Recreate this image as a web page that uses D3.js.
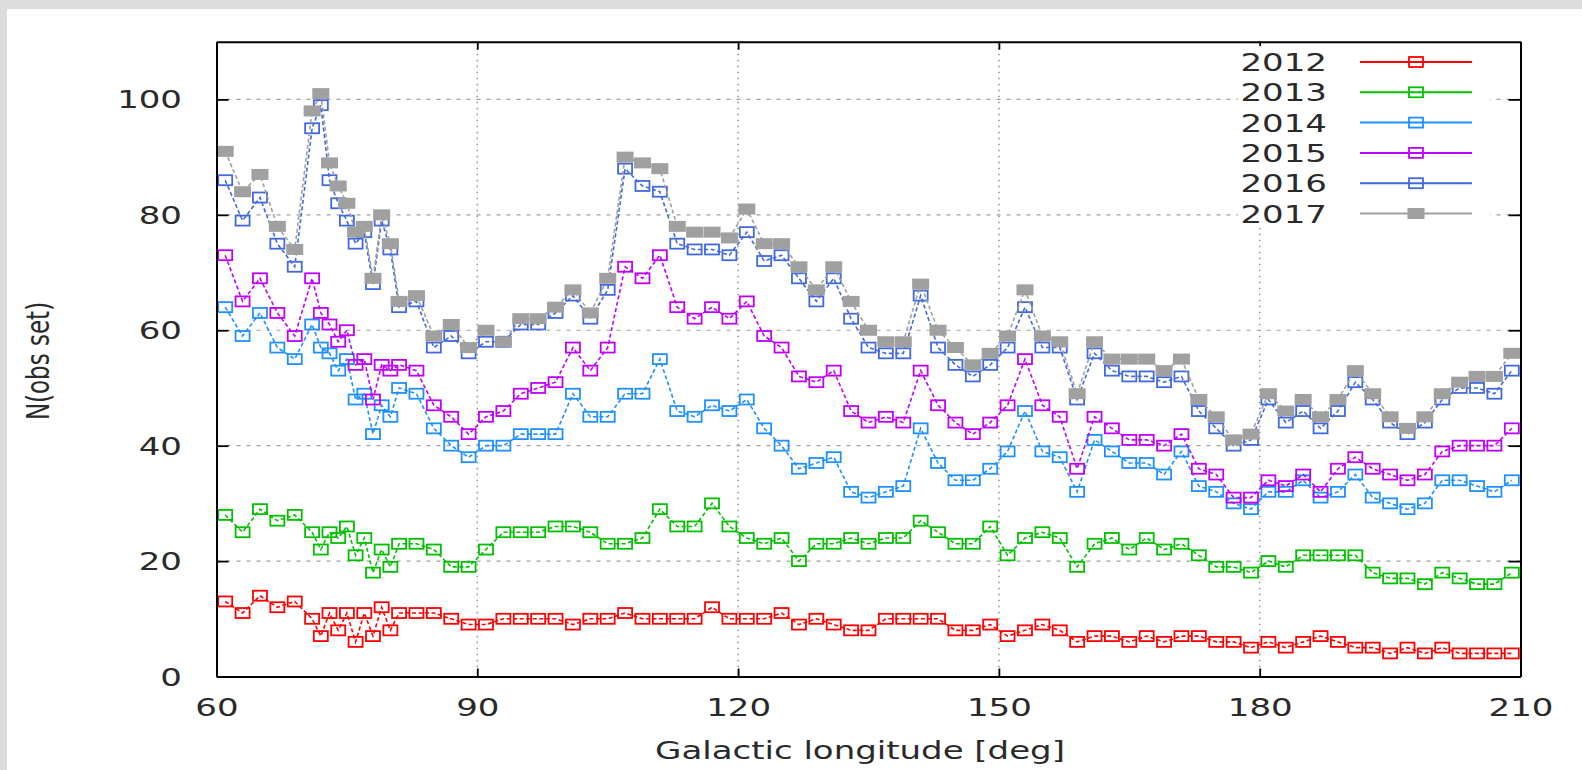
<!DOCTYPE html>
<html>
<head>
<meta charset="utf-8">
<script src="https://cdn.jsdelivr.net/npm/d3@7"></script>
<style>
  html, body { margin: 0; padding: 0; background: #dcdcdc; }
  svg { display: block; }
  text { font-family: "DejaVu Sans", sans-serif; fill: #2a2a2a; }
</style>
</head>
<body>
<svg id="chart" width="1582" height="770"></svg>
<script>
// ---------------- data ----------------
const longitudes = [61,63,65,67,69,71,72,73,74,75,76,77,78,79,80,81,
  83,85,87,89,91,93,95,97,99,101,103,105,107,109,111,113,115,117,119,121,
  123,125,127,129,131,133,135,137,139,141,143,145,147,149,151,153,155,157,
  159,161,163,165,167,169,171,173,175,177,179,181,183,185,187,189,191,193,
  195,197,199,201,203,205,207,209];

const years = ["2012","2013","2014","2015","2016","2017"];

const n2012 = [13,11,14,12,13,10,7,11,8,11,6,11,7,12,8,11,
  11,11,10,9,9,10,10,10,10,9,10,10,11,10,10,10,10,12,10,10,
  10,11,9,10,9,8,8,10,10,10,10,8,8,9,7,8,9,8,
  6,7,7,6,7,6,7,7,6,6,5,6,5,6,7,6,5,5,
  4,5,4,5,4,4,4,4];

const n2013 = [28,25,29,27,28,25,22,25,24,26,21,24,18,22,19,23,
  23,22,19,19,22,25,25,25,26,26,25,23,23,24,29,26,26,30,26,24,
  23,24,20,23,23,24,23,24,24,27,25,23,23,26,21,24,25,24,
  19,23,24,22,24,22,23,21,19,19,18,20,19,21,21,21,21,18,
  17,17,16,18,17,16,16,18];

const n2014 = [64,59,63,57,55,61,57,56,53,55,48,49,42,47,45,50,
  49,43,40,38,40,40,42,42,42,49,45,45,49,49,55,46,45,47,46,48,
  43,40,36,37,38,32,31,32,33,43,37,34,34,36,39,46,39,38,
  32,41,39,37,37,35,39,33,32,30,29,32,32,34,31,32,35,31,
  30,29,30,34,34,33,32,34];

const n2015 = [73,65,69,63,59,69,63,61,58,60,54,55,48,54,53,54,
  53,47,45,42,45,46,49,50,51,57,53,57,71,69,73,64,62,64,62,65,
  59,57,52,51,53,46,44,45,44,53,47,44,42,44,47,55,47,45,
  36,45,43,41,41,40,42,36,35,31,31,34,33,35,32,36,38,36,
  35,34,35,39,40,40,40,43];

const n2016 = [86,79,83,75,71,95,99,86,82,79,75,77,68,79,74,64,
  65,57,59,56,58,58,61,61,63,66,62,67,88,85,84,75,74,74,73,77,
  72,73,69,65,69,62,57,56,56,66,57,54,52,54,57,64,57,57,
  48,56,53,52,52,51,52,46,43,40,41,48,44,46,43,46,51,48,
  44,42,44,48,50,50,49,53];

const n2017 = [91,84,87,78,74,98,101,89,85,82,77,78,69,80,75,65,
  66,59,61,57,60,58,62,62,64,67,63,69,90,89,88,78,77,77,76,81,
  75,75,71,67,71,65,60,58,58,68,60,57,54,56,59,67,59,58,
  49,58,55,55,55,53,55,48,45,41,42,49,46,48,45,48,53,49,
  45,43,45,49,51,52,52,56];

const xTicks = [60, 90, 120, 150, 180, 210];
const yTicks = [0, 20, 40, 60, 80, 100];
const colors = ["#ff0000", "#00c000", "#1e90ff", "#c000ff", "#4169e1", "#a0a0a0"];

// ---------------- layout ----------------
const svg = d3.select("#chart");
const W = 1582, H = 770;
const L = 216.5, R = 1520.5, T = 41.7, B = 676.5;
const SX = 1.36; // horizontal stretch of the original picture
const FS = 25;

svg.append("rect").attr("x", 0).attr("y", 0).attr("width", W).attr("height", H).attr("fill", "#dcdcdc");
svg.append("rect").attr("x", 7).attr("y", 9).attr("width", W - 7).attr("height", H - 9).attr("fill", "#ffffff");

const x = d3.scaleLinear().domain([60, 210]).range([L, R]);
const y = d3.scaleLinear().domain([0, 110]).range([B, T]);

// grid
const grid = svg.append("g");
grid.selectAll("line.hg").data(yTicks.filter(v => v > 0)).join("line")
  .attr("x1", L).attr("x2", R).attr("y1", d => y(d)).attr("y2", d => y(d))
  .attr("stroke", "#a0a0a0").attr("stroke-width", 1.2).attr("stroke-dasharray", "4,6");
grid.selectAll("line.vg").data(xTicks.filter(v => v > 60 && v < 210)).join("line")
  .attr("x1", d => x(d)).attr("x2", d => x(d)).attr("y1", T).attr("y2", B)
  .attr("stroke", "#909090").attr("stroke-width", 1.5).attr("stroke-dasharray", "1.5,4.5");

// series
const series = years.map((yr, i) => ({
  name: yr,
  color: colors[i],
  values: [n2012, n2013, n2014, n2015, n2016, n2017][i],
  filled: i === 5
}));

const line = d3.line().x(d => x(d[0])).y(d => y(d[1]));
const plot = svg.append("g");
series.forEach(s => {
  const pts = longitudes.map((lon, j) => [lon, s.values[j]]);
  const g = plot.append("g");
  g.append("path").datum(pts).attr("d", line)
    .attr("fill", "none").attr("stroke", s.color).attr("stroke-width", 1.6)
    .attr("stroke-dasharray", "4,2.5");
  if (s.filled) {
    g.selectAll("rect").data(pts).join("rect")
      .attr("x", d => x(d[0]) - 8.5).attr("y", d => y(d[1]) - 5.5)
      .attr("width", 17).attr("height", 11).attr("fill", s.color);
  } else {
    g.selectAll("rect").data(pts).join("rect")
      .attr("x", d => x(d[0]) - 7).attr("y", d => y(d[1]) - 5)
      .attr("width", 14).attr("height", 10).attr("fill", "none")
      .attr("stroke", s.color).attr("stroke-width", 1.8);
  }
});

// axes (ticks inward, mirrored)
function styleAxis(g) {
  g.select(".domain").attr("stroke", "#000").attr("stroke-width", 2);
  g.selectAll(".tick line").attr("stroke", "#000").attr("stroke-width", 1.8);
}
const axL = svg.append("g").attr("transform", `translate(${L},0)`)
  .call(d3.axisLeft(y).tickValues(yTicks).tickSize(-12).tickSizeOuter(0));
styleAxis(axL);
axL.selectAll(".tick text").attr("x", 0).attr("dy", null)
  .attr("y", 8.5).attr("text-anchor", "end")
  .attr("transform", `translate(${182 - L},0) scale(${SX},1)`)
  .style("font-size", FS + "px").style("font-family", "DejaVu Sans").attr("fill", "#2a2a2a");

const axR = svg.append("g").attr("transform", `translate(${R},0)`)
  .call(d3.axisRight(y).tickValues(yTicks).tickSize(-12).tickSizeOuter(0).tickFormat(""));
styleAxis(axR);

const axB = svg.append("g").attr("transform", `translate(0,${B})`)
  .call(d3.axisBottom(x).tickValues(xTicks).tickSize(-8).tickSizeOuter(0));
styleAxis(axB);
axB.selectAll(".tick text").attr("dy", null).attr("y", 39.5).attr("text-anchor", "middle")
  .attr("transform", `scale(${SX},1)`)
  .style("font-size", FS + "px").style("font-family", "DejaVu Sans").attr("fill", "#2a2a2a");

const axT = svg.append("g").attr("transform", `translate(0,${T})`)
  .call(d3.axisTop(x).tickValues(xTicks).tickSize(-8).tickSizeOuter(0).tickFormat(""));
styleAxis(axT);

// axis titles
svg.append("text")
  .attr("transform", `translate(860,759) scale(${SX},1)`)
  .attr("text-anchor", "middle").style("font-size", FS + "px")
  .text("Galactic longitude [deg]");
svg.append("text")
  .attr("transform", `translate(49,361) scale(${SX},1) rotate(-90)`)
  .attr("text-anchor", "middle").style("font-size", "23px")
  .text("N(obs set)");

// legend
const legend = svg.append("g");
legend.append("rect").attr("x", 1238).attr("y", 46).attr("width", 252).attr("height", 182).attr("fill", "#fff");
series.forEach((s, i) => {
  const cy = 62 + i * 30.3;
  legend.append("text").attr("transform", `translate(1327,${cy + 9}) scale(${SX},1)`)
    .attr("text-anchor", "end").style("font-size", FS + "px").text(s.name);
  legend.append("line").attr("x1", 1360).attr("x2", 1472).attr("y1", cy).attr("y2", cy)
    .attr("stroke", s.color).attr("stroke-width", 2);
  if (s.filled) {
    legend.append("rect").attr("x", 1416 - 8.5).attr("y", cy - 5.5).attr("width", 17).attr("height", 11).attr("fill", s.color);
  } else {
    legend.append("rect").attr("x", 1416 - 7).attr("y", cy - 5).attr("width", 14).attr("height", 10)
      .attr("fill", "none").attr("stroke", s.color).attr("stroke-width", 1.8);
  }
});
</script>
</body>
</html>
